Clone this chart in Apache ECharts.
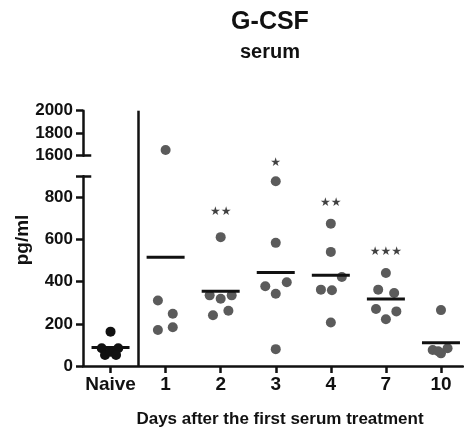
<!DOCTYPE html>
<html>
<head>
<meta charset="utf-8">
<script src="https://cdn.jsdelivr.net/npm/echarts@6/dist/echarts.min.js"></script>
<style>
  html, body { margin: 0; padding: 0; background: #fff; }
  #chart { width: 464px; height: 432px; }
</style>
</head>
<body>
<div id="chart"></div>
<script>
// groups on the x axis (index = position)
const groups = ['Naive', '1', '2', '3', '4', '7', '10'];

// naive mice
const naiveVals = [163, 84, 84, 52, 68, 52];
const naiveJitter = [0, -0.16, 0.14, -0.1, 0, 0.1];

// days after first serum treatment, one list per day (pg/ml)
const day1 = [1650, 311, 248, 171, 184];
const day2 = [611, 335, 319, 335, 241, 262];
const day3 = [876, 584, 378, 343, 397, 80];
const day4 = [675, 541, 422, 362, 359, 206];
const day7 = [441, 362, 346, 270, 259, 222];
const day10 = [265, 76, 60, 84, 70];
const dayVals = [day1, day2, day3, day4, day7, day10];

// horizontal spread of the dots inside a group (in group units)
const dayJitter = [
  [0, -0.14, 0.13, -0.14, 0.13],
  [0, -0.2, 0, 0.2, -0.14, 0.14],
  [0, 0, -0.19, 0, 0.2, 0],
  [0, 0, 0.2, -0.18, 0.02, 0],
  [0, -0.14, 0.15, -0.18, 0.19, 0],
  [0, -0.15, 0, 0.12, -0.05]
];

// group means (bars)
const means = [88, 516, 354, 443, 430, 318, 110];

// significance marks
const starText = ['', '', '**', '*', '**', '***', ''];
const starY = [null, null, 732, 961, 774, 539, null];

const BREAK = 900;
const font = "'Liberation Sans', Arial, sans-serif";

const lowDots = [], highDots = [];
dayVals.forEach((vals, g) => {
  vals.forEach((v, k) => {
    const p = [g + 1 + dayJitter[g][k], v];
    (v > BREAK ? highDots : lowDots).push(p);
  });
});
const naiveDots = naiveVals.map((v, k) => [naiveJitter[k], v]);
const meanData = means.map((m, i) => [i, m]);
const starData = [];
starText.forEach((t, i) => { if (t) starData.push({ value: [i, starY[i]], txt: t }); });

const axisLine = { show: true, onZero: false, lineStyle: { color: '#111', width: 2.5 } };
const axisTick = { show: true, length: 7, lineStyle: { color: '#111', width: 2.5 } };
const tickLabel = {
  color: '#111', fontFamily: font, fontWeight: 'bold', fontSize: 17, margin: 10,
  formatter: (v) => String(v)
};

const chart = echarts.init(document.getElementById('chart'), null, { renderer: 'canvas' });

chart.setOption({
  animation: false,
  title: {
    text: 'G-CSF',
    subtext: 'serum',
    left: 265,
    textAlign: 'center',
    top: 5,
    itemGap: 7,
    textStyle: { fontFamily: font, fontWeight: 'bold', fontSize: 25, color: '#111' },
    subtextStyle: { fontFamily: font, fontWeight: 'bold', fontSize: 20, color: '#111' }
  },
  graphic: [{
    type: 'text',
    x: 23, y: 240,
    rotation: Math.PI / 2,
    style: {
      text: 'pg/ml', fill: '#111', font: 'bold 19px ' + font,
      textAlign: 'center', textVerticalAlign: 'middle'
    }
  }],
  grid: [
    { left: 83, width: 380, top: 176.2, height: 189.8, outerBoundsMode: 'none' },   // lower part 0-900
    { left: 83, width: 380, top: 110.7, height: 45, outerBoundsMode: 'none' },      // upper part 1600-2000
    { left: 83, width: 380, top: 110.7, height: 255.3, outerBoundsMode: 'none' }    // full height, separator
  ],
  xAxis: [
    {
      gridIndex: 0, type: 'value', min: -0.5, max: 6.4,
      splitLine: { show: false },
      axisLine: axisLine,
      axisTick: Object.assign({ customValues: [0, 1, 2, 3, 4, 5, 6] }, axisTick),
      axisLabel: {
        customValues: [0, 1, 2, 3, 4, 5, 6],
        formatter: (v) => groups[Math.round(v)],
        color: '#111', fontFamily: font, fontWeight: 'bold', fontSize: 19, margin: 9
      },
      name: 'Days after the first serum treatment',
      nameLocation: 'middle',
      nameGap: 45,
      nameTextStyle: { color: '#111', fontFamily: font, fontWeight: 'bold', fontSize: 17, padding: [0, 0, 0, 14] }
    },
    { gridIndex: 1, type: 'value', min: -0.5, max: 6.4, show: false },
    { gridIndex: 2, type: 'value', min: -0.5, max: 6.4, show: false }
  ],
  yAxis: [
    {
      gridIndex: 0, type: 'value', min: 0, max: BREAK,
      splitLine: { show: false },
      axisLine: axisLine,
      axisTick: Object.assign({ customValues: [0, 200, 400, 600, 800, 900] }, axisTick),
      axisLabel: Object.assign({ customValues: [0, 200, 400, 600, 800] }, tickLabel)
    },
    {
      gridIndex: 1, type: 'value', min: 1600, max: 2000,
      splitLine: { show: false },
      axisLine: axisLine,
      axisTick: Object.assign({ customValues: [1600, 1800, 2000] }, axisTick),
      axisLabel: Object.assign({ customValues: [1600, 1800, 2000] }, tickLabel)
    },
    { gridIndex: 2, type: 'value', min: 0, max: 1, show: false }
  ],
  series: [
    {
      type: 'scatter', xAxisIndex: 0, yAxisIndex: 0,
      data: naiveDots, symbolSize: 10,
      itemStyle: { color: '#111', opacity: 1 }
    },
    {
      type: 'scatter', xAxisIndex: 0, yAxisIndex: 0,
      data: lowDots, symbolSize: 10,
      itemStyle: { color: '#5b5b5b', opacity: 1 },
      markLine: {
        silent: true, symbol: 'none', label: { show: false },
        lineStyle: { color: '#111', width: 2.5, type: 'solid' },
        data: [[{ coord: [-0.5, BREAK] }, { coord: [-0.35, BREAK] }]]
      }
    },
    {
      type: 'scatter', xAxisIndex: 1, yAxisIndex: 1,
      data: highDots, symbolSize: 10,
      itemStyle: { color: '#5b5b5b', opacity: 1 },
      markLine: {
        silent: true, symbol: 'none', label: { show: false },
        lineStyle: { color: '#111', width: 2.5, type: 'solid' },
        data: [[{ coord: [-0.5, 1600] }, { coord: [-0.35, 1600] }]]
      }
    },
    {
      type: 'scatter', xAxisIndex: 0, yAxisIndex: 0,
      data: meanData, symbol: 'rect', symbolSize: [38, 3],
      itemStyle: { color: '#111', opacity: 1 }, z: 3
    },
    {
      type: 'scatter', xAxisIndex: 0, yAxisIndex: 0, clip: false,
      data: starData, symbolSize: 1,
      itemStyle: { color: 'rgba(0,0,0,0)' },
      label: {
        show: true, position: 'inside',
        formatter: (p) => p.data.txt.replace(/\*/g, '\u2605'),
        color: '#111', fontFamily: 'DejaVu Sans', fontSize: 12
      }
    },
    {
      type: 'scatter', xAxisIndex: 2, yAxisIndex: 2,
      data: [],
      markLine: {
        silent: true, symbol: 'none', label: { show: false },
        lineStyle: { color: '#111', width: 2.5, type: 'solid' },
        data: [{ xAxis: 0.5 }]
      }
    }
  ]
});
</script>
</body>
</html>
